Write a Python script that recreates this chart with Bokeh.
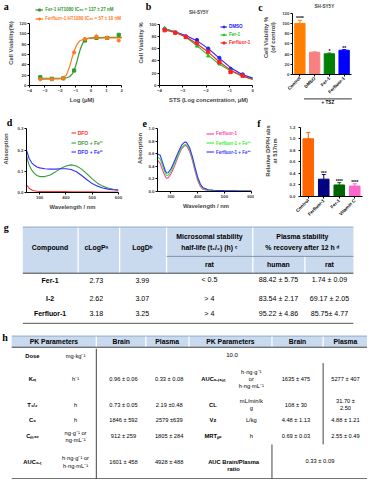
import math
from bokeh.plotting import figure
from bokeh.models import (Range1d, FactorRange, Label, Legend, LegendItem,
                          FixedTicker, NumeralTickFormatter)
from bokeh.layouts import column, row
from bokeh.embed import file_html
from bokeh.resources import INLINE
from bokeh.core.properties import value

S = 367 / 383
SANS = "Liberation Sans"
SERIF = "Liberation Serif"

# ---------------- data ----------------
# (a) HT1080 viability
a_x = [-3.3, -2.55, -1.8, -1.1, -0.4, 0.35, 1.05, 1.8]
a_fer1 = [16, 13, 14, 29, 87, 92, 92, 98]
a_ferfluor = [12, 12, 14, 64, 90, 95, 92, 87]
a_fit_x = [-3.3, -2.0, -1.6, -1.4, -1.2, -1.1, -1.0, -0.9, -0.8, -0.7, -0.6, -0.5, -0.4, -0.2, 0.0, 1.0, 2.0]
a_fit_fer1 = [14, 14, 15, 17, 23, 29, 38, 48, 60, 70, 78, 84, 88, 91, 92, 93, 93]
a_fit_ferfluor = [12, 13, 20, 36, 57, 66, 74, 80, 84, 87, 88, 89, 90, 91, 91, 92, 92]
a_labels = ["Fer-1 HT1080 IC\u2085\u2080 = 137 \u00b1 27 nM", "Ferfluor-1 HT1080 IC\u2085\u2080 = 57 \u00b1 10 nM"]

# (b) SH-SY5Y, STS
b_x = [-3.78, -3.32, -2.87, -2.39, -1.91, -1.43, -0.95, -0.43]
b_dmso = [92, 86, 80, 74, 60, 45, 27, 18]
b_fer1 = [93, 86, 78, 64, 48, 35, 24, 15]
b_ferfluor = [90, 86, 79, 69, 55, 38, 22, 16]
b_fit_x = [-3.85, -3.3, -2.85, -2.4, -1.9, -1.45, -0.95, -0.45, 0.0]
b_fit_dmso = [93, 87, 81, 73, 60, 45, 29, 18, 12]
b_fit_fer1 = [93, 87, 78, 65, 49, 35, 24, 15, 10]
b_fit_ferfluor = [91, 86, 79, 68, 54, 39, 25, 16, 10]
b_labels = ["DMSO", "Fer-1", "Ferfluor-1"]

# (c) SH-SY5Y + TSZ
c_cats = ["Control", "DMSO", "Fer-1", "Ferfluor-1"]
c_vals = [100, 43.5, 40.5, 47.5]
c_errs = [6, 0.8, 1.5, 1.2]
c_stars = ["****", "", "*", "**"]

# (d) DFO spectra
d_wl = [250, 255, 260, 270, 280, 290, 300, 320, 340, 360, 380, 400, 420, 440, 460, 480, 500, 520, 540, 560, 580, 600]
d_dfo = [0.035, 0.028, 0.02, 0.012, 0.008, 0.006, 0.005, 0.005, 0.004, 0.004, 0.004, 0.004, 0.003, 0.003, 0.003, 0.003, 0.003, 0.002, 0.002, 0.002, 0.002, 0.002]
d_fe2 = [0.175, 0.15, 0.13, 0.105, 0.09, 0.08, 0.075, 0.075, 0.082, 0.097, 0.113, 0.125, 0.13, 0.125, 0.11, 0.088, 0.064, 0.044, 0.03, 0.021, 0.015, 0.012]
d_fe3 = [0.2, 0.18, 0.16, 0.14, 0.128, 0.12, 0.116, 0.112, 0.11, 0.11, 0.112, 0.112, 0.108, 0.098, 0.08, 0.06, 0.042, 0.03, 0.021, 0.016, 0.013, 0.011]
d_labels = ["DFO", "DFO + Fe\u00b2\u207a", "DFO + Fe\u00b3\u207a"]

# (e) Ferfluor-1 spectra
e_wl = [250, 260, 270, 280, 285, 290, 300, 310, 320, 330, 340, 350, 355, 360, 370, 380, 390, 400, 410, 420, 440, 460, 500, 550, 600]
e_ff = [0.5, 0.45, 0.33, 0.23, 0.21, 0.22, 0.28, 0.37, 0.48, 0.59, 0.68, 0.73, 0.735, 0.72, 0.64, 0.5, 0.33, 0.18, 0.08, 0.035, 0.012, 0.008, 0.005, 0.004, 0.003]
e_fe2 = [0.55, 0.52, 0.4, 0.28, 0.255, 0.26, 0.32, 0.41, 0.51, 0.61, 0.7, 0.745, 0.75, 0.74, 0.67, 0.53, 0.36, 0.21, 0.1, 0.05, 0.022, 0.015, 0.01, 0.008, 0.006]
e_fe3 = [0.6, 0.58, 0.45, 0.32, 0.295, 0.3, 0.36, 0.45, 0.55, 0.65, 0.74, 0.785, 0.79, 0.775, 0.7, 0.56, 0.39, 0.23, 0.12, 0.06, 0.028, 0.02, 0.014, 0.01, 0.008]
e_labels = ["Ferfluor-1", "Ferfluor-1 + Fe\u00b2\u207a", "Ferfluor-1 + Fe\u00b3\u207a"]

# (f) DPPH
f_cats = ["Control", "Ferfluor-1", "Fer-1", "Vitamin C"]
f_vals = [1.0, 0.30, 0.20, 0.18]
f_errs = [0.11, 0.08, 0.04, 0.04]
f_stars = ["", "***", "****", "****"]

# (g) table
g_compounds = ["Fer-1", "I-2", "Ferfluor-1"]
g_clogp = ["2.73", "2.62", "3.18"]
g_logd = ["3.99", "3.07", "3.25"]
g_micro_rat = ["< 0.5", "> 4", "> 4"]
g_plasma_human = ["88.42 \u00b1 5.75", "83.54 \u00b1 2.17", "95.22 \u00b1 4.86"]
g_plasma_rat = ["1.74 \u00b1 0.09", "69.17 \u00b1 2.05", "85.75\u00b1 4.77"]
g_head_top = ["Microsomal stability", "Plasma stability"]
g_head_mid = ["Compound", "cLogP\u1d43", "LogD\u1d47", "half-life (t\u2081/\u2082) (h) \u1d9c", "% recovery after 12 h \u1d48"]
g_head_sub = ["rat", "human", "rat"]

# (h) table
h_header = ["PK Parameters", "Brain", "Plasma", "PK Parameters", "Brain", "Plasma"]
h_param_left = ["Dose", "K\u2091\u2097", "T\u2081/\u2082", "C\u2080", "C\u2098\u2090\u2093", "AUC\u2080\u208b\u209c"]
h_unit_left = ["mg\u00b7kg\u207b\u00b9", "h\u207b\u00b9", "h", "h", "ng\u00b7g\u207b\u00b9 or\nng\u00b7mL\u207b\u00b9", "h\u00b7ng\u00b7g\u207b\u00b9 or\nh\u00b7ng\u00b7mL\u207b\u00b9"]
h_brain_left = ["", "0.96 \u00b1 0.06", "0.73 \u00b1 0.05", "1846 \u00b1 592", "912 \u00b1 259", "1601 \u00b1 458"]
h_plasma_left = ["", "0.33 \u00b1 0.08", "2.19 \u00b10.48", "2579 \u00b1639", "1805 \u00b1 284", "4928 \u00b1 488"]
h_dose = ["10.0"]
h_param_right = ["AUC\u2080\u208b\u2097\u2090\u209b\u209c", "CL", "Vz", "MRT\u209a\u2092"]
h_unit_right = ["h\u00b7ng\u00b7g\u207b\u00b9\nor\nh\u00b7ng\u00b7mL\u207b\u00b9", "mL/min/k\ng", "L/kg", "h"]
h_brain_right = ["1635 \u00b1 475", "108 \u00b1 30", "4.48 \u00b1 1.13", "0.69 \u00b1 0.03"]
h_plasma_right = ["5277 \u00b1 407", "31.70 \u00b1\n2.50", "4.88 \u00b1 1.21", "2.55 \u00b1 0.49"]
h_ratio_label = ["AUC Brain/Plasma\nratio"]
h_ratio = ["0.33 \u00b1 0.09"]

# ---------------- styling ----------------
GREEN_A, ORANGE_A = "#2f9a2f", "#ff7a1c"
BLUE_B, GREEN_B, RED_B = "#2020ff", "#22c022", "#ff2020"
C_COLORS = ["#ff8000", "#f88080", "#008000", "#0000ff"]
D_COLORS = ["#ff3030", "#3a9a3a", "#3030ff"]
E_COLORS = ["#ff3d9e", "#33ee33", "#3333ff"]
F_COLORS = ["#ff6400", "#000080", "#006400", "#ff66cc"]
HEAD = "#c9d9ee"


def R(v):
    return int(round(v * S))


def make_panel(x0, x1, y0, y1, fl, fr, ft, fb, xspan, ylo, yhi, factors=None, extend_right=False):
    """Frame reaches the top of the canvas (and optionally its right edge);
    axes are bounded to the data extent so they look like the original."""
    w = R(x1) - R(x0)
    h = R(y1) - R(y0)
    l = R(fl) - R(x0)
    r = 0 if extend_right else R(x1) - R(fr)
    b = R(y1) - R(fb)
    y_end = yhi + (ft - y0) * (yhi - ylo) / (fb - ft)
    xa, xb = xspan
    x_end = xb + (x1 - fr) * (xb - xa) / (fr - fl) if extend_right else xb
    xr = FactorRange(*factors) if factors else Range1d(xa, x_end)
    p = figure(width=w, height=h, x_range=xr, y_range=Range1d(ylo, y_end), output_backend="svg",
               toolbar_location=None, min_border_left=l, min_border_right=r,
               min_border_top=0, min_border_bottom=b, frame_align=False, title=None)
    p.outline_line_color = None
    p.xgrid.visible = False
    p.ygrid.visible = False
    p.border_fill_color = "white"
    p.yaxis.bounds = (ylo, yhi)
    if extend_right:
        p.xaxis.bounds = (xa, xb)
    for ax in p.axis:
        ax.axis_line_color = "black"
        ax.axis_line_width = 1
        ax.major_tick_line_color = "black"
        ax.major_tick_out = 2
        ax.major_tick_in = 0
        ax.minor_tick_line_color = None
        ax.major_label_text_font = SANS
        ax.major_label_text_font_size = "4.4px"
        ax.major_label_text_font_style = "bold"
        ax.major_label_standoff = 1
        ax.axis_label_text_font = SANS
        ax.axis_label_text_font_style = "bold"
        ax.axis_label_text_font_size = "5.8px"
        ax.axis_label_standoff = 2
    geo = dict(x0=x0, y0=y0, w=w, h=h, l=l, r=r, b=b, xs=(xa, x_end), ys=(ylo, y_end))
    return p, geo


def frame_xy(geo, rx, ry):
    return rx * S - R(geo["x0"]) - geo["l"], (geo["h"] - geo["b"]) - (ry * S - R(geo["y0"]))


def frame_data(geo, rx, ry):
    sx, sy = frame_xy(geo, rx, ry)
    fw = geo["w"] - geo["l"] - geo["r"]
    fh = geo["h"] - geo["b"]
    x0, x1 = geo["xs"]
    y0, y1 = geo["ys"]
    return x0 + sx / fw * (x1 - x0), y0 + sy / fh * (y1 - y0)


def add_label(p, geo, rx, ry, text, size, align="center", baseline="middle"):
    sx, sy = frame_xy(geo, rx, ry)
    p.add_layout(Label(x=sx, y=sy, x_units="screen", y_units="screen", text=text,
                       text_font=SANS, text_font_size=size, text_font_style="bold",
                       text_align=align, text_baseline=baseline))


def add_overlay_text(p, geo, rx, ry, txt, size, font=SANS, align="left", baseline="alphabetic"):
    dx, dy = frame_data(geo, rx, ry)
    p.text(x=[dx], y=[dy], text=[txt], level="overlay", text_font=value(font),
           text_font_size=size, text_font_style="bold", text_baseline=baseline,
           text_align=align)


def add_letter(p, geo, rx, ry, letter):
    add_overlay_text(p, geo, rx, ry, letter, "10px", font=SERIF)


def category_labels(p, geo, cats, ry, size):
    """Rotated (45 degree) category names under a bar chart, anchored at each tick."""
    p.xaxis.major_label_overrides = {c: "" for c in cats}
    p.xaxis.major_label_text_color = None
    _, dy = frame_data(geo, 0, ry)
    p.text(x=cats, y=[dy] * len(cats), text=cats, angle=math.pi / 4, level="overlay",
           text_align="right", text_baseline="middle", text_font=value(SANS),
           text_font_size=size, text_font_style="bold")


def add_legend(p, geo, rends, label, color, gx, cy, gw, fs, gh=5):
    sx, sy = frame_xy(geo, gx, cy)
    lg = Legend(items=[LegendItem(label=label, renderers=rends)], location=(sx, sy - gh / 2),
                label_text_color=color, label_text_font=SANS, label_text_font_size=fs,
                label_text_font_style="bold", border_line_color=None, background_fill_alpha=0,
                padding=0, margin=0, spacing=0, glyph_width=gw, glyph_height=gh,
                label_height=gh, label_standoff=2)
    p.add_layout(lg)


# ---------------- panel a ----------------
pa, ga = make_panel(0, 140, 0, 110, 30, 126.7, 24.3, 90, (-4, 2), 0, 120, extend_right=True)
pa.xaxis.ticker = FixedTicker(ticks=[-4, -3, -2, -1, 0, 1, 2])
pa.yaxis.ticker = FixedTicker(ticks=[0, 20, 40, 60, 80, 100, 120])
pa.xaxis.axis_label = "Log (\u03bcM)"
pa.yaxis.axis_label = "Cell Viability(%)"
la1 = pa.line(a_fit_x, a_fit_fer1, color=GREEN_A, line_width=1.2)
sa1 = pa.scatter(a_x, a_fer1, marker="square", size=3.2, color=GREEN_A)
la2 = pa.line(a_fit_x, a_fit_ferfluor, color=ORANGE_A, line_width=1.2)
sa2 = pa.scatter(a_x, a_ferfluor, marker="circle", size=3.2, color=ORANGE_A)
add_legend(pa, ga, [la1, sa1], a_labels[0], GREEN_A, 36.7, 11.3, 8, "4.5px")
add_legend(pa, ga, [la2, sa2], a_labels[1], ORANGE_A, 36.7, 20, 8, "4.5px")
add_letter(pa, ga, 3.3, 6.7, "a")

# ---------------- panel b ----------------
pb, gb = make_panel(140, 268, 0, 110, 165.7, 263, 25, 90.3, (-4, 0), 0, 100, extend_right=True)
pb.xaxis.ticker = FixedTicker(ticks=[-4, -3, -2, -1, 0])
pb.yaxis.ticker = FixedTicker(ticks=[0, 20, 40, 60, 80, 100])
pb.xaxis.axis_label = "STS (Log concentration, \u03bcM)"
pb.yaxis.axis_label = "Cell Viability %"
rb = []
for fy, py, col, mk in [(b_fit_dmso, b_dmso, BLUE_B, "circle"),
                        (b_fit_fer1, b_fer1, GREEN_B, "triangle"),
                        (b_fit_ferfluor, b_ferfluor, RED_B, "square")]:
    ln = pb.line(b_fit_x, fy, color=col, line_width=1.1)
    sc = pb.scatter(b_x, py, marker=mk, size=3.3, color=col)
    rb.append([ln, sc])
for i, cy in enumerate([29.3, 37.7, 46.3]):
    add_legend(pb, gb, rb[i], b_labels[i], [BLUE_B, GREEN_B, RED_B][i], 229.5, cy, 7, "4.6px")
add_letter(pb, gb, 151.7, 6.7, "b")
add_label(pb, gb, 207, 15, "SH-SY5Y", "4.6px")

# ---------------- panel c ----------------
pc, gc = make_panel(268, 383, 0, 110, 305, 366.7, 13.3, 77.7, (0, 4), 0, 120, factors=c_cats)
pc.yaxis.ticker = FixedTicker(ticks=[0, 20, 40, 60, 80, 100, 120])
pc.yaxis.axis_label = "Cell Viability %\n(of control)"
pc.yaxis.axis_label_standoff = 3
pc.vbar(x=c_cats, top=c_vals, width=0.7, color=C_COLORS)
c_up = [v + e for v, e in zip(c_vals, c_errs)]
pc.segment(x0=c_cats, y0=c_vals, x1=c_cats, y1=c_up, color=C_COLORS, line_width=1)
pc.scatter(x=c_cats, y=c_up, marker="dash", size=4, color=C_COLORS, line_width=1)
pc.text(x=c_cats, y=c_up, text=c_stars, text_align="center", text_baseline="bottom",
        text_font=value(SANS), text_font_size="5px", text_font_style="bold", y_offset=1)
category_labels(pc, gc, c_cats, 80.5, "4.6px")
tx0, ty = frame_data(gc, 316.7, 102.7)
tx1, _ = frame_data(gc, 366.7, 102.7)
pc.segment(x0=[tx0], y0=[ty], x1=[tx1], y1=[ty], color="black", line_width=0.8, level="overlay")
add_overlay_text(pc, gc, 341.7, 106.3, "+ TSZ", "4.6px", align="center", baseline="middle")
add_letter(pc, gc, 269, 7.3, "c")
add_label(pc, gc, 338, 6.5, "SH-SY5Y", "4.6px")

# ---------------- panel d ----------------
pd_, gd = make_panel(0, 140, 110, 225, 25, 122.7, 134.3, 200.7, (250, 600), 0, 0.3)
pd_.xaxis.ticker = FixedTicker(ticks=[300, 400, 500, 600])
pd_.yaxis.ticker = FixedTicker(ticks=[0, 0.1, 0.2, 0.3])
pd_.yaxis.formatter = NumeralTickFormatter(format="0.0")
pd_.xaxis.axis_label = "Wavelength / nm"
pd_.yaxis.axis_label = "Absorption"
pd_.yaxis.axis_label_standoff = 5
rd = [pd_.line(d_wl, ys, color=c, line_width=1.1) for ys, c in zip([d_dfo, d_fe2, d_fe3], D_COLORS)]
for i, cy in enumerate([139.3, 149.3, 158.7]):
    add_legend(pd_, gd, [rd[i]], d_labels[i], D_COLORS[i], 71.7, cy, 5, "5px")
add_letter(pd_, gd, 4, 127.3, "d")

# ---------------- panel e ----------------
pe, ge = make_panel(140, 265, 110, 225, 161.4, 261.5, 134.3, 199.3, (250, 600), 0, 1.0, extend_right=True)
pe.xaxis.ticker = FixedTicker(ticks=[300, 400, 500, 600])
pe.yaxis.ticker = FixedTicker(ticks=[0, 0.2, 0.4, 0.6, 0.8, 1.0])
pe.yaxis.formatter = NumeralTickFormatter(format="0.0")
pe.xaxis.axis_label = "Wavelength / nm"
pe.yaxis.axis_label = "Absorption"
re_ = [pe.line(e_wl, ys, color=c, line_width=1.1) for ys, c in zip([e_ff, e_fe2, e_fe3], E_COLORS)]
for i, cy in enumerate([139.3, 149.3, 158.7]):
    add_legend(pe, ge, [re_[i]], e_labels[i], E_COLORS[i], 213, cy, 8, "4.5px")
add_letter(pe, ge, 145.7, 128.3, "e")

# ---------------- panel f ----------------
pf, gf = make_panel(265, 383, 110, 225, 312.7, 378, 132.7, 205, (0, 4), 0, 1.2, factors=f_cats)
pf.yaxis.ticker = FixedTicker(ticks=[0, 0.2, 0.4, 0.6, 0.8, 1.0, 1.2])
pf.yaxis.formatter = NumeralTickFormatter(format="0.0")
pf.yaxis.axis_label = "Relative DPPH abs\nat 517nm"
pf.yaxis.axis_label_standoff = 8
pf.yaxis.major_label_standoff = 3
pf.vbar(x=f_cats, top=f_vals, width=0.68, color=F_COLORS)
f_up = [v + e for v, e in zip(f_vals, f_errs)]
pf.segment(x0=f_cats, y0=f_vals, x1=f_cats, y1=f_up, color=F_COLORS, line_width=1)
pf.scatter(x=f_cats, y=f_up, marker="dash", size=4, color=F_COLORS, line_width=1)
pf.text(x=f_cats, y=f_up, text=f_stars, text_align="center", text_baseline="bottom",
        text_font=value(SANS), text_font_size="4.6px", text_font_style="bold", y_offset=1)
category_labels(pf, gf, f_cats, 208, "4.6px")
add_letter(pf, gf, 268, 128.3, "f")

# ---------------- tables g & h ----------------
T_W = 367
T_H = 479 - (R(225))
pt = figure(width=T_W, height=T_H, x_range=Range1d(0, 383), y_range=Range1d(500, 225),
            x_axis_type=None, y_axis_type=None, output_backend="svg", toolbar_location=None,
            min_border=0, frame_align=False, title=None)
pt.outline_line_color = None
pt.xgrid.visible = False
pt.ygrid.visible = False

TXT = dict(text_align="center", text_baseline="middle", text_font=value(SANS))

# table g layout
G_L, G_R, G_T, G_SUB, G_B, G_END = 23.3, 368.3, 236, 266.7, 284.3, 336.7
G_SEP = [81, 124.3, 173.3, 263.3]
G_COL_X = [51.7, 100, 148, 218, 290, 343.3]
G_HEAD_X = [51.7, 100, 148, 218, 315]
G_ROW_Y = [291.7, 311, 326.7]
pt.quad(left=[G_L], right=[G_R], top=[G_T], bottom=[G_B], fill_color=HEAD, line_color=None)
pt.segment(x0=G_SEP + [317.7], y0=[G_T] * 4 + [G_SUB], x1=G_SEP + [317.7], y1=[G_B] * 5,
           color="white", line_width=1.3)
pt.segment(x0=[G_L, 173.3, G_L, G_L], y0=[G_T, G_SUB, G_B, G_END],
           x1=[G_R, G_R, G_R, G_R], y1=[G_T, G_SUB, G_B, G_END],
           color=["#7f9cc4", "#6f7f99", "#444444", "#555555"], line_width=[0.8, 0.8, 1, 1])
pt.text(x=[218, 315], y=[245.7, 245.7], text=g_head_top, text_font_size="6.9px",
        text_font_style="bold", **TXT)
pt.text(x=G_HEAD_X, y=[257.3] * 5, text=g_head_mid,
        text_font_size="6.9px", text_font_style="bold", **TXT)
pt.text(x=G_COL_X[3:], y=[275.5] * 3, text=g_head_sub, text_font_size="6.9px",
        text_font_style="bold", **TXT)
pt.text(x=[G_COL_X[0]] * 3, y=G_ROW_Y, text=g_compounds, text_font_size="6.9px",
        text_font_style="bold", **TXT)
gx, gy, gt = [], [], []
for ci, col in enumerate([g_clogp, g_logd, g_micro_rat, g_plasma_human, g_plasma_rat]):
    for ri, v in enumerate(col):
        gx.append(G_COL_X[ci + 1])
        gy.append(G_ROW_Y[ri])
        gt.append(v)
pt.text(x=gx, y=gy, text=gt, text_font_size="7.1px", **TXT)

# table h layout
H_L, H_R, H_T, H_B, H_END = 11.7, 383, 350, 361.7, 499.3
H_SEP = [100, 151.7, 196.7, 283.3, 336.7]
H_HEAD_X = [55.8, 126, 174, 240, 310, 360]
H_ROW_L = [370.7, 395, 421.7, 437.7, 455, 481.7]
H_ROW_R = [395, 421.7, 438.3, 455]
H_COL_L = [33.3, 78.3, 128.3, 176]
H_COL_R = [221.7, 261.7, 308.3, 360]
pt.quad(left=[H_L], right=[H_R], top=[H_T], bottom=[H_B], fill_color=HEAD, line_color=None)
pt.segment(x0=H_SEP, y0=[H_T] * 5, x1=H_SEP, y1=[H_B] * 5, color="white", line_width=1.3)
pt.segment(x0=[H_L, H_L, H_L], y0=[H_T, H_B, H_END], x1=[H_R, H_R, H_R], y1=[H_T, H_B, H_END],
           color=["#7f9cc4", "#444444", "#444444"], line_width=[0.8, 1, 1.2])
pt.segment(x0=[100, 336.7, 283.3], y0=[363.3, 378.3, 463.3], x1=[100, 336.7, 283.3],
           y1=[H_END, 463.3, H_END], color="#444444", line_width=1)
pt.text(x=H_HEAD_X, y=[355.8] * 6, text=h_header, text_font_size="6.8px",
        text_font_style="bold", **TXT)
pt.text(x=[H_COL_L[0]] * 6, y=H_ROW_L, text=h_param_left, text_font_size="5.8px",
        text_font_style="bold", **TXT)
hx, hy, ht = [], [], []
for ci, col in enumerate([h_unit_left, h_brain_left, h_plasma_left]):
    for ri, v in enumerate(col):
        hx.append(H_COL_L[ci + 1])
        hy.append(H_ROW_L[ri])
        ht.append(v)
pt.text(x=hx, y=hy, text=ht, text_font_size="5.7px", **TXT)
pt.text(x=[H_COL_R[0]] * 4, y=H_ROW_R, text=h_param_right, text_font_size="5.8px",
        text_font_style="bold", **TXT)
hx, hy, ht = [], [], []
for ci, col in enumerate([h_unit_right, h_brain_right, h_plasma_right]):
    for ri, v in enumerate(col):
        hx.append(H_COL_R[ci + 1])
        hy.append(H_ROW_R[ri])
        ht.append(v)
pt.text(x=hx, y=hy, text=ht, text_font_size="5.7px", **TXT)
pt.text(x=[241.7], y=[370.3], text=h_dose, text_font_size="6px", **TXT)
pt.text(x=[243.3], y=[485.3], text=h_ratio_label, text_font_size="5.8px",
        text_font_style="bold", **TXT)
pt.text(x=[333.3], y=[480.7], text=h_ratio, text_font_size="5.8px", **TXT)

pt.text(x=[3.3, 1.7], y=[237, 351.7], text=["g", "h"], text_font=value(SERIF),
        text_font_size="10px", text_font_style="bold", text_baseline="alphabetic",
        text_align="left")

layout = column(row(pa, pb, pc), row(pd_, pe, pf), pt)

with open("out.html", "w") as fh:
    fh.write(file_html(layout, INLINE))
